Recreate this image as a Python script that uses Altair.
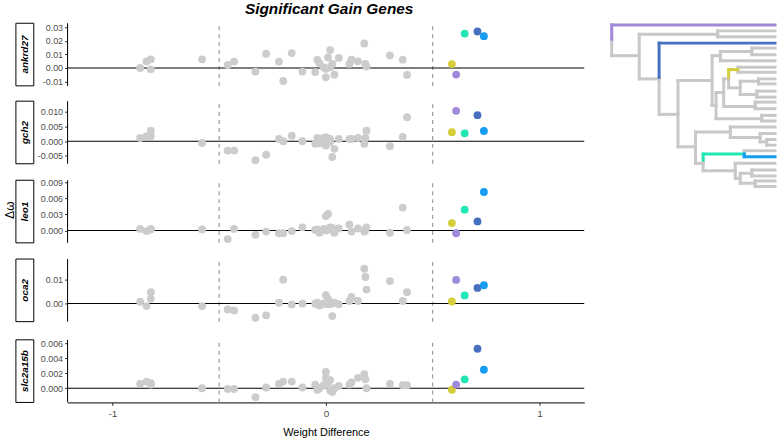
import altair as alt
import pandas as pd

FONT = "Liberation Sans"

genes = ["ankrd27", "gch2", "leo1", "oca2", "slc2a15b"]

# background (non-significant) branches: weight difference shared by all genes
gray_x = [-0.87, -0.84, -0.82, -0.82, -0.58, -0.46, -0.43, -0.33, -0.28, -0.22,
          -0.20, -0.16, -0.11, -0.05, -0.04, -0.03, -0.01, 0.00, 0.00, 0.01,
          0.02, 0.02, 0.03, 0.04, 0.06, 0.11, 0.12, 0.15, 0.18, 0.185, 0.19,
          0.30, 0.36, 0.38]

gray_y_ankrd27 = [0.0, 0.0049, 0.0064, -0.001, 0.0064, 0.0022, 0.0047, -0.0027, 0.0105, 0.0047,
                  -0.0096, 0.011, -0.0027, -0.003, 0.006, 0.0034, 0.0005, -0.0007, -0.0069, 0.0078,
                  0.0132, 0.0005, 0.003, -0.005, 0.0074, 0.003, 0.0061, 0.0049, 0.0181, 0.003, 0.001,
                  0.0093, 0.0061, -0.0051]
gray_y_gch2 = [0.0011, 0.0017, 0.0036, 0.0018, -0.0006, -0.0032, -0.0032, -0.0065, -0.0046, 0.0008,
               0.0, 0.0019, 0.0, -0.0009, 0.0011, -0.0007, 0.0011, 0.0014, -0.0015, 0.0008,
               0.0008, -0.0003, -0.0054, -0.0026, 0.0008, 0.0008, 0.0008, 0.0011, -0.0009, 0.0011, 0.0036,
               -0.0017, 0.0015, 0.0082]
gray_y_leo1 = [0.0003, -0.0001, 0.0003, 0.0002, 0.0002, -0.0016, 0.0003, -0.0008, -0.0002, -0.0005,
               -0.0005, -0.0001, 0.0006, 0.0001, 0.0002, -0.0004, 0.0003, 0.0027, 0.0, 0.0031,
               0.0006, 0.0002, 0.0005, -0.0004, 0.0004, 0.0011, -0.0002, 0.0004, -0.0002, 0.0001, 0.0006,
               -0.0004, 0.0043, 0.0001]
gray_y_oca2 = [0.0007, -0.0011, 0.0046, 0.0019, -0.0011, -0.0025, -0.0029, -0.0059, -0.0049, 0.0003,
               0.0098, -0.0004, -0.0001, -0.0001, 0.0003, -0.0008, 0.0, 0.0034, -0.0003, 0.0019,
               -0.0003, 0.0005, -0.0052, 0.0003, -0.0003, 0.001, 0.0027, 0.001, 0.0143, 0.0109, 0.0057,
               0.0092, 0.001, 0.0046]
gray_y_slc2a15b = [0.0006, 0.0009, 0.0005, 0.0007, 0.0, -0.0001, -0.0001, -0.0012, 0.0001, 0.0006,
                   0.0009, 0.0009, 0.0001, 0.0005, -0.0002, 0.0, 0.0004, 0.0022, 0.0014, 0.0007,
                   0.0011, -0.0003, -0.0005, 0.0, 0.0003, 0.0005, 0.0008, 0.0014, 0.0019, 0.0012, 0.0,
                   0.0006, 0.0004, 0.0004]
gray_y = {"ankrd27": gray_y_ankrd27, "gch2": gray_y_gch2, "leo1": gray_y_leo1,
          "oca2": gray_y_oca2, "slc2a15b": gray_y_slc2a15b}

# significant branches
branch_names = ["yellow", "purple", "green", "darkblue", "lightblue"]
branch_colors = ["#D3CE3A", "#A089DB", "#22E6B4", "#4771BF", "#159DF4"]
branch_x = [0.59, 0.61, 0.65, 0.71, 0.74]
branch_y = {
    "ankrd27": [0.0029, -0.0049, 0.0254, 0.0269, 0.0235],
    "gch2": [0.0031, 0.0104, 0.0027, 0.0089, 0.0035],
    "leo1": [0.0014, -0.0005, 0.0039, 0.0017, 0.0072],
    "oca2": [0.0008, 0.0097, 0.0033, 0.0064, 0.0075],
    "slc2a15b": [-0.0002, 0.0005, 0.0012, 0.0053, 0.0025],
}

y_domains = {
    "ankrd27": [-0.0132, 0.033],
    "gch2": [-0.0077, 0.0137],
    "leo1": [-0.0023, 0.0094],
    "oca2": [-0.0075, 0.0183],
    "slc2a15b": [-0.0019, 0.0065],
}
y_ticks = {
    "ankrd27": [-0.01, 0.0, 0.01, 0.02, 0.03],
    "gch2": [-0.005, 0.0, 0.005, 0.01],
    "leo1": [0.0, 0.003, 0.006, 0.009],
    "oca2": [0.0, 0.01],
    "slc2a15b": [0.0, 0.002, 0.004, 0.006],
}
y_formats = {"ankrd27": ".2f", "gch2": ".3f", "leo1": ".3f", "oca2": ".2f", "slc2a15b": ".3f"}

x_domain = [-1.21, 1.21]
x_ticks = [-1, 0, 1]
thresholds = [-0.5, 0.5]

# phylogenetic tree branches: (depth1, row1, depth2, row2, colour group)
tree_segments = [
    (37, 72, 530, 72, "purple"), (37, 72, 37, 115, "purple"),
    (37, 115, 37, 165, "gray"), (37, 165, 120, 165, "gray"),
    (120, 100, 120, 235, "gray"), (120, 100, 357, 100, "gray"),
    (357, 90, 357, 108, "gray"), (357, 90, 530, 90, "gray"), (357, 108, 530, 108, "gray"),
    (120, 235, 180, 235, "gray"),
    (180, 127, 530, 127, "darkblue"), (180, 127, 180, 230, "darkblue"),
    (180, 230, 180, 342, "gray"), (180, 342, 237, 342, "gray"),
    (237, 240, 237, 440, "gray"), (237, 240, 340, 240, "gray"), (237, 440, 290, 440, "gray"),
    (340, 165, 340, 315, "gray"), (340, 165, 365, 165, "gray"),
    (365, 152, 365, 180, "gray"), (365, 152, 460, 152, "gray"),
    (460, 142, 460, 162, "gray"), (460, 142, 530, 142, "gray"), (460, 162, 530, 162, "gray"),
    (365, 180, 530, 180, "gray"),
    (340, 315, 352, 315, "gray"), (352, 276, 352, 355, "gray"),
    (352, 355, 490, 355, "gray"), (490, 345, 490, 362, "gray"),
    (490, 345, 530, 345, "gray"), (490, 362, 530, 362, "gray"),
    (352, 276, 375, 276, "gray"),
    (375, 235, 375, 318, "gray"), (375, 318, 470, 318, "gray"),
    (470, 305, 470, 325, "gray"), (470, 305, 530, 305, "gray"), (470, 325, 530, 325, "gray"),
    (375, 235, 390, 235, "gray"),
    (390, 207, 418, 207, "yellow"), (390, 207, 390, 230, "yellow"), (390, 230, 390, 262, "gray"),
    (418, 200, 418, 215, "gray"), (418, 200, 530, 200, "gray"), (418, 215, 530, 215, "gray"),
    (390, 262, 425, 262, "gray"),
    (425, 242, 425, 282, "gray"), (425, 242, 480, 242, "gray"),
    (480, 235, 480, 250, "gray"), (480, 235, 530, 235, "gray"), (480, 250, 530, 250, "gray"),
    (425, 282, 475, 282, "gray"), (475, 272, 475, 290, "gray"),
    (475, 272, 530, 272, "gray"), (475, 290, 530, 290, "gray"),
    (290, 395, 290, 490, "gray"), (290, 395, 395, 395, "gray"),
    (395, 380, 395, 412, "gray"), (395, 380, 530, 380, "gray"), (395, 412, 485, 412, "gray"),
    (485, 400, 485, 425, "gray"), (485, 400, 530, 400, "gray"), (485, 425, 505, 425, "gray"),
    (505, 418, 505, 435, "gray"), (505, 418, 530, 418, "gray"), (505, 435, 530, 435, "gray"),
    (290, 490, 313, 490, "gray"),
    (313, 480, 313, 512, "gray"), (313, 462, 313, 480, "green"), (313, 462, 437, 462, "green"),
    (437, 452, 437, 462, "gray"), (437, 452, 530, 452, "gray"),
    (437, 462, 437, 470, "lightblue"), (437, 470, 530, 470, "lightblue"),
    (313, 512, 410, 512, "gray"),
    (410, 490, 410, 535, "gray"), (410, 490, 530, 490, "gray"), (410, 535, 425, 535, "gray"),
    (425, 520, 425, 550, "gray"), (425, 520, 460, 520, "gray"),
    (460, 510, 460, 528, "gray"), (460, 510, 530, 510, "gray"), (460, 528, 530, 528, "gray"),
    (425, 550, 470, 550, "gray"), (470, 543, 470, 560, "gray"),
    (470, 543, 530, 543, "gray"), (470, 560, 530, 560, "gray"),
]

GRAY = "#CCCCCC"
PANEL_W, PANEL_H = 520, 63
SPACING = 2
# blank margins (px) above / below each panel so marks never spill out; they also set the gaps
PAD_TOP = [6, 7.4, 8.0, 8.3, 9.6]
PAD_BOTTOM = [6, 6, 6, 6, 0]


def panel(idx, gene):
    last = idx == len(genes) - 1
    lo, hi = y_domains[gene]
    ppu = PANEL_H / (hi - lo)
    ext_lo = lo - PAD_BOTTOM[idx] / ppu
    ext_hi = hi + PAD_TOP[idx] / ppu
    height = PANEL_H + PAD_TOP[idx] + PAD_BOTTOM[idx]

    df_g = pd.DataFrame({"x": gray_x, "y": gray_y[gene]})
    df_c = pd.DataFrame({"x": branch_x, "y": branch_y[gene], "branch": branch_names})
    if last:
        xaxis = alt.Axis(values=x_ticks, title="Weight Difference", grid=False,
                         labelExpr="replace(format(datum.value, 'd'), '\u2212', '-')",
                         domainColor="black", domainWidth=1, tickColor="#333333", tickSize=3,
                         labelColor="#4D4D4D", labelFontSize=10, labelFont=FONT, labelPadding=3,
                         titleFont=FONT, titleFontSize=11, titleFontWeight="normal",
                         titleColor="black", titlePadding=8)
    else:
        xaxis = None
    fmt = y_formats[gene]
    yaxis = alt.Axis(values=y_ticks[gene], title=None, grid=False, domain=False,
                     labelExpr="replace(format(datum.value, '%s'), '\u2212', '-')" % fmt,
                     tickColor="#333333", tickSize=3,
                     labelColor="#4D4D4D", labelFontSize=9, labelFont=FONT, labelPadding=2)
    x = alt.X("x:Q", scale=alt.Scale(domain=x_domain, nice=False, zero=False), axis=xaxis)
    y = alt.Y("y:Q", scale=alt.Scale(domain=[ext_lo, ext_hi], nice=False, zero=False),
              axis=yaxis)

    # panel frame pieces (left axis line, threshold lines, strip)
    axis_line = alt.Chart(pd.DataFrame({"x": [x_domain[0]], "y": [lo], "y2": [hi]})).mark_rule(
        color="black", strokeWidth=1).encode(x=x, y=y, y2="y2:Q")
    vlines = alt.Chart(pd.DataFrame({"x": thresholds, "y": [lo, lo], "y2": [hi, hi]})).mark_rule(
        color="#9A9A9A", strokeDash=[4, 4], strokeWidth=1.2).encode(x=x, y=y, y2="y2:Q")
    zero = alt.Chart(pd.DataFrame({"y": [0.0]})).mark_rule(
        color="black", strokeWidth=1.1).encode(y=y)
    gray = alt.Chart(df_g).mark_circle(size=62, color=GRAY, opacity=1).encode(x=x, y=y)
    col = alt.Chart(df_c).mark_circle(size=62, opacity=1).encode(
        x=x, y=y,
        color=alt.Color("branch:N", scale=alt.Scale(domain=branch_names, range=branch_colors),
                        legend=None))
    strip_box = alt.Chart(pd.DataFrame({"y": [lo], "y2": [hi]})).mark_rect(
        fill="white", stroke="black", strokeWidth=1).encode(
        x=alt.value(-52), x2=alt.value(-34), y=y, y2="y2:Q")
    strip_txt = alt.Chart(pd.DataFrame({"y": [(lo + hi) / 2], "g": [gene]})).mark_text(
        angle=270, fontStyle="italic", fontWeight="bold", fontSize=10, font=FONT,
        color="black").encode(x=alt.value(-43), y=y, text="g:N")
    layers = [vlines, zero, axis_line, gray, col, strip_box, strip_txt]
    if gene == "leo1":
        layers.append(alt.Chart(pd.DataFrame({"t": ["\u0394\u03c9"]})).mark_text(
            angle=270, fontSize=12, font=FONT, color="black").encode(
            x=alt.value(-58), y=alt.value(PAD_TOP[idx] + 30), text="t:N"))
    return alt.layer(*layers).properties(width=PANEL_W, height=height)


rows = [panel(i, g) for i, g in enumerate(genes)]
left_block = alt.vconcat(*rows, spacing=SPACING).properties(
    title=alt.TitleParams("Significant Gain Genes", anchor="middle", dx=35,
                          font=FONT, fontSize=15.5, fontWeight="bold", fontStyle="italic",
                          color="black", offset=0))

tree_df = pd.DataFrame(tree_segments, columns=["d1", "r1", "d2", "r2", "grp"])
tx = alt.X("d1:Q", scale=alt.Scale(domain=[35, 530], nice=False, zero=False), axis=None)
ty = alt.Y("r1:Q", scale=alt.Scale(domain=[49, 574], nice=False, zero=False, reverse=True),
           axis=None)
tree_gray = alt.Chart(tree_df[tree_df.grp == "gray"]).mark_rule(
    color="#C8C8C8", strokeWidth=3, strokeCap="square").encode(x=tx, x2="d2:Q", y=ty, y2="r2:Q")
tree_col = alt.Chart(tree_df[tree_df.grp != "gray"]).mark_rule(
    strokeWidth=3, strokeCap="square").encode(
    x=tx, x2="d2:Q", y=ty, y2="r2:Q",
    color=alt.Color("grp:N", scale=alt.Scale(domain=branch_names, range=branch_colors),
                    legend=None))
tree = alt.layer(tree_gray, tree_col).properties(width=165, height=175)

chart = alt.hconcat(left_block, tree, spacing=24).properties(
    padding={"left": 4, "top": 0, "right": 0, "bottom": 0},
    background="white",
).configure_view(stroke=None)

chart.save("out.html", embed_options={"renderer": "svg", "actions": False})
